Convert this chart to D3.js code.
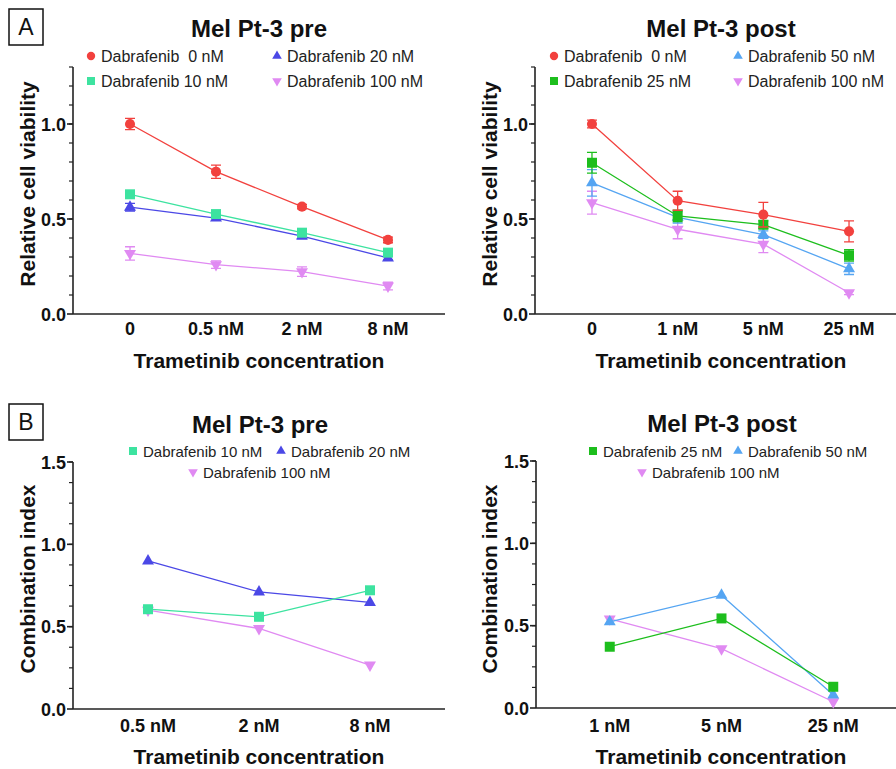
<!DOCTYPE html>
<html>
<head>
<meta charset="utf-8">
<script src="https://cdn.jsdelivr.net/npm/d3@7/dist/d3.min.js"></script>
<style>
  body { margin: 0; background: #fff; }
  svg { display: block; font-family: Arial, 'Liberation Sans', sans-serif; }
</style>
</head>
<body>
<svg id="chart" width="896" height="769"></svg>
<script>
// x categories (Trametinib)
const dosePreA = ['0', '0.5 nM', '2 nM', '8 nM'];
const dosePostA = ['0', '1 nM', '5 nM', '25 nM'];
const dosePreB = ['0.5 nM', '2 nM', '8 nM'];
const dosePostB = ['1 nM', '5 nM', '25 nM'];

// A: relative cell viability (mean, error)
const preD0 = [1.0, 0.749, 0.565, 0.39];
const preD0Err = [0.03, 0.035, 0.012, 0.015];
const preD10 = [0.63, 0.526, 0.428, 0.323];
const preD10Err = [0.012, 0.01, 0.01, 0.01];
const preD20 = [0.562, 0.505, 0.41, 0.295];
const preD20Err = [0.02, 0.012, 0.015, 0.01];
const preD100 = [0.319, 0.26, 0.223, 0.147];
const preD100Err = [0.035, 0.02, 0.025, 0.02];

const postD0 = [1.0, 0.596, 0.523, 0.435];
const postD0Err = [0.02, 0.05, 0.065, 0.055];
const postD25 = [0.796, 0.516, 0.47, 0.309];
const postD25Err = [0.055, 0.03, 0.02, 0.03];
const postD50 = [0.69, 0.509, 0.418, 0.238];
const postD50Err = [0.07, 0.03, 0.02, 0.03];
const postD100 = [0.586, 0.446, 0.368, 0.112];
const postD100Err = [0.06, 0.05, 0.045, 0.01];

// B: combination index
const ciPreD10 = [0.606, 0.56, 0.721];
const ciPreD20 = [0.899, 0.711, 0.647];
const ciPreD100 = [0.6, 0.489, 0.267];
const ciPostD25 = [0.372, 0.544, 0.129];
const ciPostD50 = [0.523, 0.685, 0.079];
const ciPostD100 = [0.541, 0.36, 0.038];

const col = {
  red: '#f2413e', mint: '#3de3a0', blue: '#4b48e6',
  violet: '#e08af2', green: '#1dbe1d', sky: '#55a5f2'
};

const svg = d3.select('#chart');

function symbolPath(shape, size) {
  if (shape === 'circle') return d3.symbol(d3.symbolCircle, size)();
  if (shape === 'square') return d3.symbol(d3.symbolSquare, size)();
  return d3.symbol(d3.symbolTriangle, size)();
}
function symbolRot(shape) { return shape === 'down' ? ' rotate(180)' : ''; }

function drawPanel(p) {
  const g = svg.append('g');
  const x = d3.scalePoint().domain(p.cats).range(p.xRange).padding(p.pad);
  const y = d3.scaleLinear().domain([0, p.yMax]).range(p.yRange);

  // axes
  g.append('line').attr('x1', p.xRange[0]).attr('x2', p.xRange[1])
    .attr('y1', y(0)).attr('y2', y(0)).attr('stroke', '#222').attr('stroke-width', 1.6);
  g.append('line').attr('x1', p.xRange[0]).attr('x2', p.xRange[0])
    .attr('y1', y(0)).attr('y2', y(p.yMax)).attr('stroke', '#222').attr('stroke-width', 1.6);

  const minor = d3.range(1, Math.round(p.yMax / p.minorStep) + 1).map(i => +(i * p.minorStep).toFixed(3));
  g.selectAll('.minor').data(minor).enter().append('line')
    .attr('x1', p.xRange[0] - 4).attr('x2', p.xRange[0])
    .attr('y1', d => y(d)).attr('y2', d => y(d))
    .attr('stroke', '#222').attr('stroke-width', 1.2);
  g.selectAll('.major').data(p.majors).enter().append('line')
    .attr('x1', p.xRange[0] - 6).attr('x2', p.xRange[0])
    .attr('y1', d => y(d)).attr('y2', d => y(d))
    .attr('stroke', '#222').attr('stroke-width', 1.6);
  g.selectAll('.ylab').data(p.majors).enter().append('text')
    .attr('x', p.xRange[0] - 7).attr('y', d => y(d) + 6.5)
    .attr('text-anchor', 'end').attr('font-size', 18).attr('font-weight', 'bold')
    .attr('fill', '#111').text(d => d.toFixed(1));

  g.selectAll('.xlab').data(p.cats).enter().append('text')
    .attr('x', d => x(d)).attr('y', p.xLabY)
    .attr('text-anchor', 'middle').attr('font-size', 18).attr('font-weight', 'bold')
    .attr('fill', '#111').text(d => d);

  g.append('text').attr('x', p.xTitle[0]).attr('y', p.xTitle[1])
    .attr('text-anchor', 'middle').attr('font-size', 21).attr('font-weight', 'bold')
    .attr('fill', '#111').text('Trametinib concentration');
  g.append('text')
    .attr('transform', `translate(${p.yTitle[0]},${p.yTitle[1]}) rotate(-90)`)
    .attr('text-anchor', 'middle').attr('font-size', 21).attr('font-weight', 'bold')
    .attr('fill', '#111').text(p.yLabel);

  g.append('text').attr('x', p.title[0]).attr('y', p.title[1])
    .attr('text-anchor', 'middle').attr('font-size', 24).attr('font-weight', 'bold')
    .attr('fill', '#111').text(p.titleText);

  // series
  const line = d3.line().x(d => x(d.c)).y(d => y(d.v));
  p.series.forEach(s => {
    const pts = p.cats.map((c, i) => ({ c, v: s.values[i], e: s.err ? s.err[i] : 0 }));
    const sg = g.append('g');
    sg.append('path').datum(pts).attr('d', line)
      .attr('fill', 'none').attr('stroke', s.color).attr('stroke-width', 1.3);
    if (s.err) {
      sg.selectAll('.eb').data(pts).enter().append('path')
        .attr('d', d => {
          const cx = x(d.c), y1 = y(d.v + d.e), y2 = y(d.v - d.e);
          return `M${cx},${y1}V${y2}M${cx - 5},${y1}H${cx + 5}M${cx - 5},${y2}H${cx + 5}`;
        })
        .attr('stroke', s.color).attr('stroke-width', 1.3).attr('fill', 'none');
    }
    sg.selectAll('.pt').data(pts).enter().append('path')
      .attr('d', symbolPath(s.shape, s.shape === 'circle' ? 80 : s.shape === 'square' ? 100 : 62))
      .attr('transform', d => `translate(${x(d.c)},${y(d.v)})${symbolRot(s.shape)}`)
      .attr('fill', s.color);
  });

  // legend
  p.legend.forEach(l => {
    const s = p.series.find(d => d.name === l.name);
    g.append('path')
      .attr('d', symbolPath(s.shape, s.shape === 'circle' ? 55 : s.shape === 'square' ? 64 : 40))
      .attr('transform', `translate(${l.x},${l.y})${symbolRot(s.shape)}`)
      .attr('fill', s.color);
    g.append('text').attr('x', l.x + 10).attr('y', l.y + 5.5)
      .attr('font-size', p.legendSize).attr('fill', '#222')
      .attr('xml:space', 'preserve').style('white-space', 'pre')
      .text(l.name);
  });
}

// panel letters
[['A', 9, 9], ['B', 9, 404]].forEach(([t, bx, by]) => {
  svg.append('rect').attr('x', bx).attr('y', by).attr('width', 34).attr('height', 36)
    .attr('fill', 'none').attr('stroke', '#111').attr('stroke-width', 1.5);
  svg.append('text').attr('x', bx + 17).attr('y', by + 26).attr('text-anchor', 'middle')
    .attr('font-size', 23).attr('fill', '#111').text(t);
});

drawPanel({
  cats: dosePreA, xRange: [73, 445], pad: 0.663, yMax: 1.3, yRange: [314, 67],
  minorStep: 0.1, majors: [0, 0.5, 1.0], xLabY: 335,
  xTitle: [259, 368], yTitle: [35, 184], yLabel: 'Relative cell viability',
  title: [259, 37], titleText: 'Mel Pt-3 pre', legendSize: 16,
  series: [
    { name: 'Dabrafenib 100 nM', values: preD100, err: preD100Err, color: col.violet, shape: 'down' },
    { name: 'Dabrafenib 20 nM', values: preD20, err: preD20Err, color: col.blue, shape: 'up' },
    { name: 'Dabrafenib 10 nM', values: preD10, err: preD10Err, color: col.mint, shape: 'square' },
    { name: 'Dabrafenib  0 nM', values: preD0, err: preD0Err, color: col.red, shape: 'circle' }
  ],
  legend: [
    { name: 'Dabrafenib  0 nM', x: 91, y: 56 },
    { name: 'Dabrafenib 10 nM', x: 91, y: 81 },
    { name: 'Dabrafenib 20 nM', x: 277, y: 56 },
    { name: 'Dabrafenib 100 nM', x: 277, y: 81 }
  ]
});

drawPanel({
  cats: dosePostA, xRange: [535, 906], pad: 0.665, yMax: 1.3, yRange: [314, 67],
  minorStep: 0.1, majors: [0, 0.5, 1.0], xLabY: 335,
  xTitle: [721, 368], yTitle: [497, 184], yLabel: 'Relative cell viability',
  title: [721, 37], titleText: 'Mel Pt-3 post', legendSize: 16,
  series: [
    { name: 'Dabrafenib 100 nM', values: postD100, err: postD100Err, color: col.violet, shape: 'down' },
    { name: 'Dabrafenib 50 nM', values: postD50, err: postD50Err, color: col.sky, shape: 'up' },
    { name: 'Dabrafenib 25 nM', values: postD25, err: postD25Err, color: col.green, shape: 'square' },
    { name: 'Dabrafenib  0 nM', values: postD0, err: postD0Err, color: col.red, shape: 'circle' }
  ],
  legend: [
    { name: 'Dabrafenib  0 nM', x: 554, y: 56 },
    { name: 'Dabrafenib 25 nM', x: 554, y: 81 },
    { name: 'Dabrafenib 50 nM', x: 738, y: 56 },
    { name: 'Dabrafenib 100 nM', x: 738, y: 81 }
  ]
});

drawPanel({
  cats: dosePreB, xRange: [73, 445], pad: 0.676, yMax: 1.5, yRange: [709, 462],
  minorStep: 0.125, majors: [0, 0.5, 1.0, 1.5], xLabY: 732,
  xTitle: [259, 764], yTitle: [35, 579], yLabel: 'Combination index',
  title: [260, 433], titleText: 'Mel Pt-3 pre', legendSize: 15,
  series: [
    { name: 'Dabrafenib 100 nM', values: ciPreD100, color: col.violet, shape: 'down' },
    { name: 'Dabrafenib 20 nM', values: ciPreD20, color: col.blue, shape: 'up' },
    { name: 'Dabrafenib 10 nM', values: ciPreD10, color: col.mint, shape: 'square' }
  ],
  legend: [
    { name: 'Dabrafenib 10 nM', x: 133, y: 451 },
    { name: 'Dabrafenib 20 nM', x: 281, y: 451 },
    { name: 'Dabrafenib 100 nM', x: 193, y: 472 }
  ]
});

drawPanel({
  cats: dosePostB, xRange: [536, 907], pad: 0.66, yMax: 1.5, yRange: [708, 461],
  minorStep: 0.125, majors: [0, 0.5, 1.0, 1.5], xLabY: 732,
  xTitle: [721, 764], yTitle: [497, 579], yLabel: 'Combination index',
  title: [722, 432], titleText: 'Mel Pt-3 post', legendSize: 15,
  series: [
    { name: 'Dabrafenib 100 nM', values: ciPostD100, color: col.violet, shape: 'down' },
    { name: 'Dabrafenib 50 nM', values: ciPostD50, color: col.sky, shape: 'up' },
    { name: 'Dabrafenib 25 nM', values: ciPostD25, color: col.green, shape: 'square' }
  ],
  legend: [
    { name: 'Dabrafenib 25 nM', x: 593, y: 451 },
    { name: 'Dabrafenib 50 nM', x: 738, y: 451 },
    { name: 'Dabrafenib 100 nM', x: 642, y: 472 }
  ]
});
</script>
</body>
</html>
